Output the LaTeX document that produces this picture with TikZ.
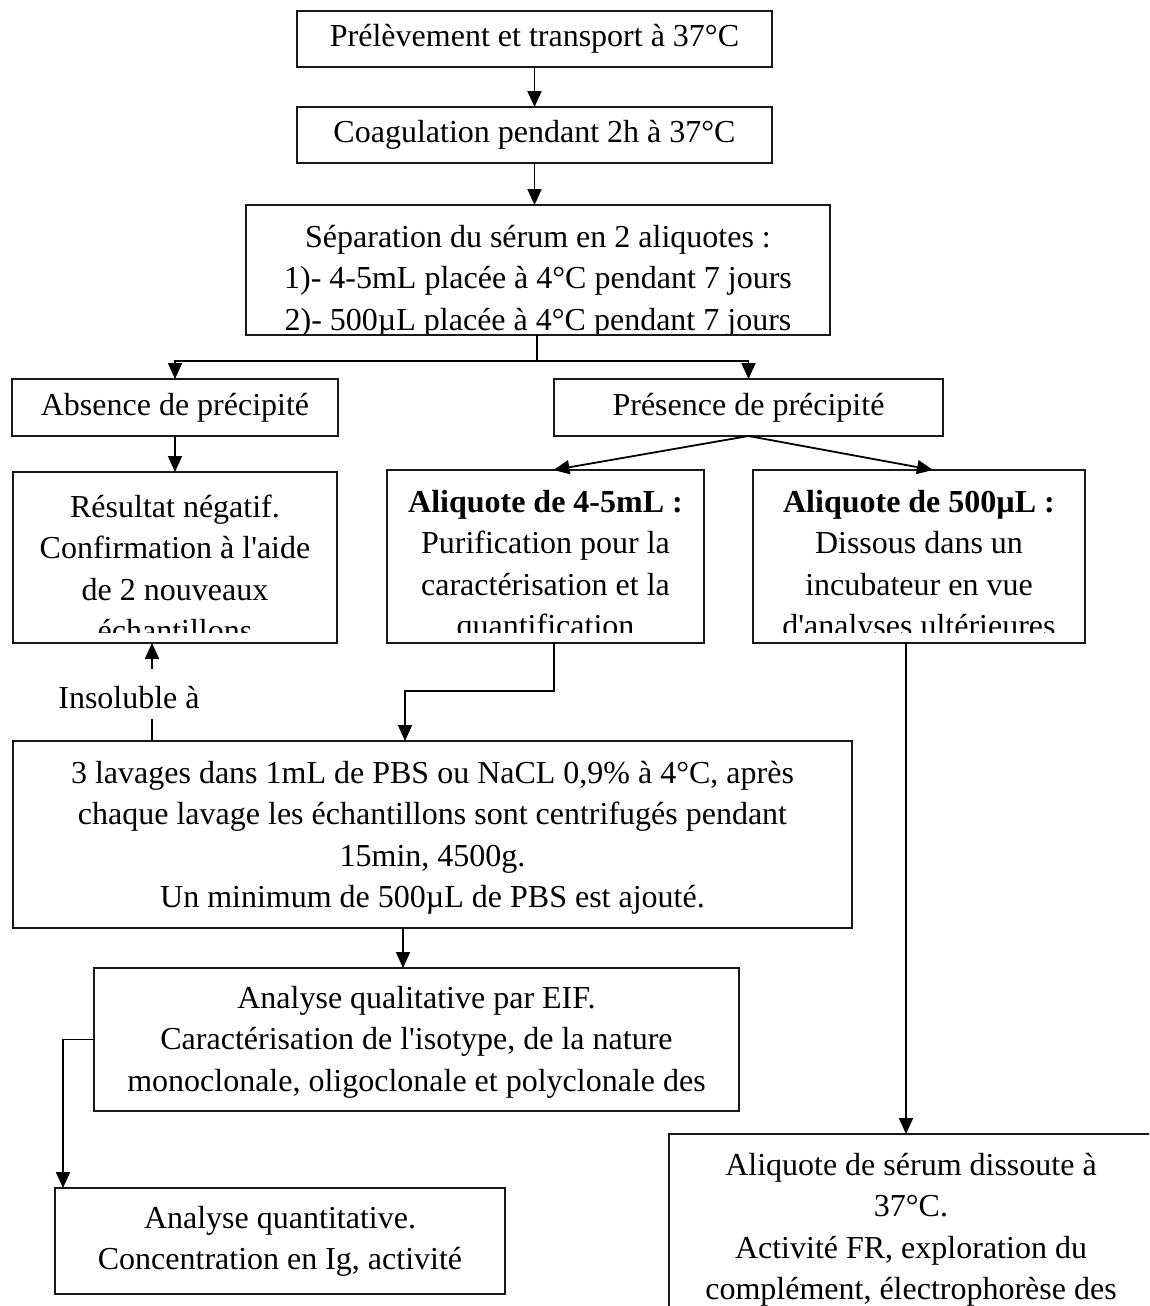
\documentclass[tikz,border=0pt]{standalone}
\usepackage{fontspec}
\setmainfont{Liberation Serif}[Ligatures=TeXOff]
\usetikzlibrary{arrows.meta}
\begin{document}
\begin{tikzpicture}[x=1pt,y=-1pt,
  box/.style={draw=black!90, line width=1.4pt, inner sep=0pt, outer sep=0pt, anchor=north west},
  txt/.style={inner sep=0pt, outer sep=0pt, font=\fontsize{32}{41.5}\selectfont},
  ml/.style={txt, align=flush center, text width=#1, anchor=base},
  conn/.style={line width=1.8pt},
  arr/.style={conn, -{Triangle[length=16pt,width=14pt]}}]
\clip (0,0) rectangle (1149,1306);
\fill[white] (0,0) rectangle (1149,1306);

% boxes
\node[box, minimum width=475pt, minimum height=56pt] (b1) at (297,11) {};
\node[txt] (t1) at (b1.center) {Prélèvement et transport à 37°C};

\node[box, minimum width=475pt, minimum height=56pt] (b2) at (297,107) {};
\node[txt] (t2) at (b2.center) {Coagulation pendant 2h à 37°C};

\node[box, minimum width=584pt, minimum height=130pt] (b3) at (246,205) {};
\begin{scope}
\clip (246,205) rectangle (830,333);
\node[ml=584pt] (t3) at (538,247) {Séparation du sérum en 2 aliquotes :\\
1)- 4-5mL placée à 4°C pendant 7 jours\\
2)- 500µL placée à 4°C pendant 7 jours};
\end{scope}

\node[box, minimum width=326pt, minimum height=57pt] (b4) at (12,379) {};
\node[txt] (t4) at (b4.center) {Absence de précipité};

\node[box, minimum width=389pt, minimum height=57pt] (b5) at (554,379) {};
\node[txt] (t5) at (b5.center) {Présence de précipité};

\node[box, minimum width=324pt, minimum height=171pt] (b6) at (13,472) {};
\begin{scope}
\clip (13,472) rectangle (337,632);
\node[ml=324pt] (t6) at (175,517) {Résultat négatif.\\
Confirmation à l'aide\\
de 2 nouveaux\\
échantillons};
\end{scope}

\node[box, minimum width=317pt, minimum height=173pt] (b7) at (387,470) {};
\begin{scope}
\clip (387,470) rectangle (704,632);
\node[ml=317pt] (t7) at (545.5,512) {\textbf{Aliquote de 4-5mL :}\\
Purification pour la\\
caractérisation et la\\
quantification};
\end{scope}

\node[box, minimum width=332pt, minimum height=173pt] (b8) at (753,470) {};
\begin{scope}
\clip (753,470) rectangle (1085,632);
\node[ml=332pt] (t8) at (919,512) {\textbf{Aliquote de 500µL :}\\
Dissous dans un\\
incubateur en vue\\
d'analyses ultérieures};
\end{scope}

\node[txt, anchor=base] (ins) at (129,708) {Insoluble à};

\node[box, minimum width=839pt, minimum height=187pt] (b9) at (13,741) {};
\node[ml=839pt] (t9) at (432.5,783) {3 lavages dans 1mL de PBS ou NaCL 0,9\% à 4°C, après\\
chaque lavage les échantillons sont centrifugés pendant\\
15min, 4500g.\\
Un minimum de 500µL de PBS est ajouté.};

\node[box, minimum width=645pt, minimum height=143pt] (b10) at (94,968) {};
\node[ml=645pt] (t10) at (416.5,1008) {Analyse qualitative par EIF.\\
Caractérisation de l'isotype, de la nature\\
monoclonale, oligoclonale et polyclonale des};

\node[box, minimum width=450pt, minimum height=106pt] (b11) at (55,1188) {};
\node[ml=450pt] (t11) at (280,1228) {Analyse quantitative.\\
Concentration en Ig, activité};

\node[box, minimum width=484pt, minimum height=250pt] (b12) at (669,1134) {};
\node[ml=484pt] (t12) at (911,1175) {Aliquote de sérum dissoute à\\
37°C.\\
Activité FR, exploration du\\
complément, électrophorèse des};

% connectors
\draw[arr] (b1) -- (b2);
\draw[arr] (b2.south) -- (b2.south |- b3.north);
\coordinate (br) at (537,361);
\draw[conn] (b3.south -| br) -- (br);
\draw[arr] (br) -| (b4.north);
\draw[arr] (br) -| (b5.north);
\draw[arr] (b4) -- (b6);
\draw[arr] (b5.south) -- ([xshift=8pt]b7.north);
\draw[arr] (b5.south) -- ([xshift=14pt]b8.north);
\coordinate (k7) at (405,691);
\draw[arr] ([xshift=8.5pt]b7.south) |- (k7) -- (k7 |- b9.north);
\coordinate (insx) at (152,719);
\coordinate (insy) at (152,669);
\draw[conn] (b9.north -| insx) -- (insx);
\draw[arr] (insy) -- (b6.south -| insy);
\coordinate (q9) at (403,950);
\draw[arr] (b9.south -| q9) -- (b10.north -| q9);
\draw[arr] (b10.west) -| ([xshift=8pt]b11.north west);
\draw[arr] ([xshift=-13pt]b8.south) -- ([xshift=-13pt]b8.south |- b12.north);
\end{tikzpicture}
\end{document}
